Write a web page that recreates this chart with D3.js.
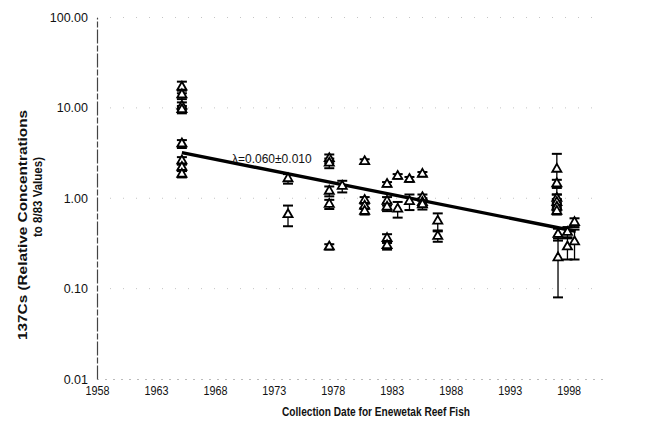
<!DOCTYPE html>
<html>
<head>
<meta charset="utf-8">
<script src="https://cdn.jsdelivr.net/npm/d3@7"></script>
<style>
  body { margin: 0; background: #fff; }
  svg { display: block; }
  text { font-family: Arial, "Liberation Sans", sans-serif; fill: #111; }
</style>
</head>
<body>
<svg id="chart" width="660" height="427"></svg>
<script>
// Sample collection dates (decimal years)
const sampleYears = [
  1965.2, 1965.2, 1965.2, 1965.2, 1965.2, 1965.2, 1965.2, 1965.2,
  1974.2, 1974.2,
  1977.7, 1977.7, 1977.7, 1977.7, 1977.7,
  1978.8,
  1980.7, 1980.7, 1980.7, 1980.7,
  1982.6, 1982.6, 1982.6, 1982.6, 1982.6,
  1983.5, 1983.5,
  1984.5, 1984.5,
  1985.6, 1985.6, 1985.6, 1985.6,
  1986.9, 1986.9,
  1997.0, 1997.0, 1997.0, 1997.0, 1997.0, 1997.0,
  1997.1, 1997.1,
  1997.9, 1997.9,
  1998.5, 1998.5
];
// 137Cs concentration relative to the 8/83 values
const concentrations = [
  17.0, 14.0, 10.5, 9.6, 4.0, 2.6, 2.2, 1.85,
  1.65, 0.66,
  2.75, 2.45, 1.2, 0.86, 0.29,
  1.36,
  2.55, 0.95, 0.82, 0.72,
  1.43, 0.93, 0.80, 0.36, 0.30,
  1.75, 0.76,
  1.62, 0.92,
  1.85, 1.02, 0.90, 0.85,
  0.56, 0.38,
  2.1, 1.45, 1.0, 0.9, 0.8, 0.72,
  0.40, 0.22,
  0.42, 0.29,
  0.54, 0.33
];
// One-sigma uncertainty of each concentration
const uncertainties = [
  2.5, 1.5, 1.0, 0.9, 0.4, 0.25, 0.2, 0.15,
  0.2, 0.17,
  0.3, 0.3, 0.15, 0.1, 0.02,
  0.2,
  0.15, 0.08, 0.06, 0.06,
  0.08, 0.1, 0.08, 0.04, 0.03,
  0.1, 0.15,
  0.1, 0.18,
  0.1, 0.08, 0.1, 0.1,
  0.12, 0.05,
  1.0, 0.15, 0.1, 0.08, 0.07, 0.06,
  0.06, 0.14,
  0.06, 0.08,
  0.06, 0.12
];

// Axis ticks
const yearTicks = [1958, 1963, 1968, 1973, 1978, 1983, 1988, 1993, 1998];
const concTicks = [0.01, 0.1, 1, 10, 100];

// Exponential decay fit: C(t) = fitA * exp(-lambda * (t - fitStart))
const lambda = 0.060;
const lambdaErr = 0.010;
const fitA = 3.2;
const fitStart = 1965.2;
const fitEnd = 1998.6;

const svg = d3.select("#chart");

const x = d3.scaleLinear().domain([1958, 2001]).range([97, 604]);
const y = d3.scaleLog().domain([0.01, 100]).range([379, 17.5]);

// Faint dotted decade gridlines
svg.append("g")
  .selectAll("line")
  .data(concTicks.filter(d => d > 0.01))
  .join("line")
  .attr("x1", x(1958)).attr("x2", x(2001))
  .attr("y1", d => y(d)).attr("y2", d => y(d))
  .attr("stroke", "#c4c4c4")
  .attr("stroke-width", 1)
  .attr("stroke-dasharray", "1,12");

// Y axis
const yAxis = svg.append("g")
  .attr("transform", `translate(${x(1958)},0)`)
  .call(d3.axisLeft(y).tickValues(concTicks).tickFormat(d3.format(".2f")).tickSize(0).tickPadding(9));
yAxis.select(".domain").attr("stroke", "#444").attr("stroke-width", 1.2)
  .attr("stroke-dasharray", "14,2,6,2");
yAxis.selectAll("text")
  .style("font-family", "Arial, 'Liberation Sans', sans-serif")
  .style("font-size", "12.5px")
  .attr("fill", "#111");

// X axis (dotted baseline)
const xAxis = svg.append("g")
  .attr("transform", `translate(0,${y(0.01)})`)
  .call(d3.axisBottom(x).tickValues(yearTicks).tickFormat(d3.format("d")).tickSize(0).tickPadding(7));
xAxis.select(".domain").attr("stroke", "#777").attr("stroke-width", 1).attr("stroke-dasharray", "1,7");
xAxis.selectAll("text")
  .style("font-family", "Arial, 'Liberation Sans', sans-serif")
  .style("font-size", "12.5px")
  .attr("fill", "#111")
  .attr("textLength", 24)
  .attr("lengthAdjust", "spacingAndGlyphs");

// Axis titles
svg.append("text")
  .attr("x", 376).attr("y", 416)
  .attr("text-anchor", "middle")
  .style("font-size", "12px").style("font-weight", "bold")
  .attr("textLength", 188).attr("lengthAdjust", "spacingAndGlyphs")
  .text("Collection Date for Enewetak Reef Fish");

svg.append("text")
  .attr("transform", "translate(27,225) rotate(-90)")
  .attr("text-anchor", "middle")
  .style("font-size", "12px").style("font-weight", "bold")
  .attr("textLength", 230).attr("lengthAdjust", "spacingAndGlyphs")
  .text("137Cs (Relative Concentrations");
svg.append("text")
  .attr("transform", "translate(42,197) rotate(-90)")
  .attr("text-anchor", "middle")
  .style("font-size", "12px").style("font-weight", "bold")
  .attr("textLength", 80).attr("lengthAdjust", "spacingAndGlyphs")
  .text("to 8/83 Values)");

// Fit line
const fitLine = d3.line().x(d => x(d)).y(d => y(fitA * Math.exp(-lambda * (d - fitStart))));
svg.append("path")
  .attr("d", fitLine([fitStart, fitEnd]))
  .attr("fill", "none")
  .attr("stroke", "#000")
  .attr("stroke-width", 3.4);

svg.append("text")
  .attr("x", 232).attr("y", 163)
  .style("font-size", "12px")
  .text(`λ=${lambda.toFixed(3)}±${lambdaErr.toFixed(3)}`);

// Error bars and markers
const points = sampleYears.map((t, i) => ({
  t, v: concentrations[i], e: uncertainties[i]
}));

const bars = svg.append("g").attr("stroke", "#000");
points.forEach(p => {
  const cx = x(p.t);
  const yHi = y(p.v + p.e);
  const yLo = y(Math.max(p.v - p.e, 0.011));
  bars.append("line").attr("x1", cx).attr("x2", cx).attr("y1", yHi).attr("y2", yLo).attr("stroke-width", 1.3);
  bars.append("line").attr("x1", cx - 5).attr("x2", cx + 5).attr("y1", yHi).attr("y2", yHi).attr("stroke-width", 2);
  bars.append("line").attr("x1", cx - 5).attr("x2", cx + 5).attr("y1", yLo).attr("y2", yLo).attr("stroke-width", 2);
});

const tri = d3.symbol().type(d3.symbolTriangle).size(36);
svg.append("g")
  .selectAll("path")
  .data(points)
  .join("path")
  .attr("d", tri)
  .attr("transform", d => `translate(${x(d.t)},${y(d.v)})`)
  .attr("fill", "#fff")
  .attr("stroke", "#000")
  .attr("stroke-width", 1.8);
</script>
</body>
</html>
